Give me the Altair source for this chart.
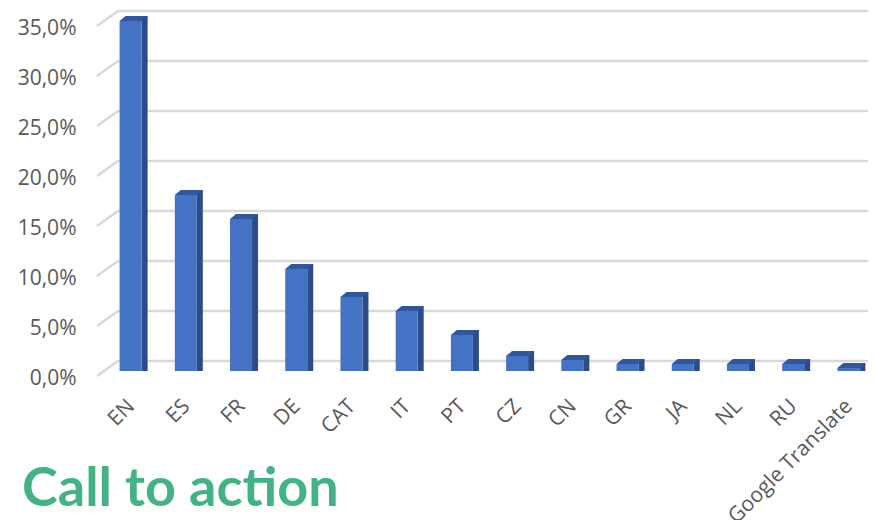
import altair as alt
import pandas as pd

languages = ["EN", "ES", "FR", "DE", "CAT", "IT", "PT", "CZ", "CN", "GR", "JA", "NL", "RU", "Google Translate"]
shares = [35.0, 17.6, 15.2, 10.2, 7.4, 6.0, 3.6, 1.5, 1.1, 0.7, 0.7, 0.7, 0.7, 0.3]
y_ticks = [0, 5, 10, 15, 20, 25, 30, 35]
title_text = "Call to action"

FRONT = "#4472c4"
SIDE = "#2b4c88"
TOP = "#30569c"
GRID = "#d9d9d9"
LABEL = "#595959"
FONT = "Open Sans"

W, H = 765, 350
BAND_W = 773

df = pd.DataFrame({"lang": languages, "val": shares})
ticks_df = pd.DataFrame({"v": y_ticks})
title_df = pd.DataFrame({"t": [title_text]})

yscale = alt.Scale(domain=[0, 35], nice=False, zero=True)
xscale = alt.Scale(range=[0, BAND_W], paddingInner=0.5, paddingOuter=0.25)

label_expr = "replace(format(datum.value, '.1f'), '.', ',') + '%'"

grid = alt.Chart(ticks_df).mark_rule(color=GRID, strokeWidth=2.5, yOffset=-10).encode(
    y=alt.Y("v:Q", scale=yscale,
            axis=alt.Axis(values=y_ticks, labelExpr=label_expr, domain=False, ticks=False,
                          grid=False, labelPadding=27, labelOffset=7, labelFontSize=21,
                          labelFont=FONT, labelColor=LABEL, title=None)),
    x=alt.value(15),
    x2=alt.value(W),
)

diag = alt.Chart(ticks_df).mark_rule(color=GRID, strokeWidth=2.5, yOffset=5, y2Offset=-10).encode(
    y=alt.Y("v:Q", scale=yscale),
    y2=alt.Y2("v"),
    x=alt.value(-6),
    x2=alt.value(15),
)

xenc = alt.X("lang:N", sort=languages, scale=xscale,
             axis=alt.Axis(labelAngle=-45, domain=False, ticks=False, grid=False,
                           labelPadding=24, labelOffset=-7, labelFontSize=21, labelFont=FONT,
                           labelColor=LABEL, title=None))

side = alt.Chart(df).mark_bar(width=6, xOffset=14, yOffset=-5, color=SIDE).encode(
    x=xenc,
    y=alt.Y("val:Q", scale=yscale),
    y2=alt.datum(0),
)

front = alt.Chart(df).mark_bar(width=22, color=FRONT).encode(
    x=xenc,
    y=alt.Y("val:Q", scale=yscale),
    y2=alt.datum(0),
)

top_shape = "M-0.786,0 L0.786,0 L1.214,-0.357 L-0.357,-0.357 Z"
top = alt.Chart(df).mark_point(shape=top_shape, size=784, filled=True, opacity=1,
                               color=TOP, strokeWidth=0).encode(
    x=xenc,
    y=alt.Y("val:Q", scale=yscale),
)

title = alt.Chart(title_df).mark_text(align="left", baseline="alphabetic", font="Lato",
                                      fontWeight="bold", fontSize=54, color="#43b284").encode(
    text="t:N",
    x=alt.value(-81),
    y=alt.value(485),
)

chart = alt.layer(grid, diag, side, front, top, title).properties(
    width=W, height=H,
    autosize=alt.AutoSizeParams(type="none"),
    padding={"left": 95, "top": 13, "right": 0, "bottom": 149},
).configure_view(stroke=None)

chart.save("out.html", embed_options={"renderer": "svg", "actions": False})
